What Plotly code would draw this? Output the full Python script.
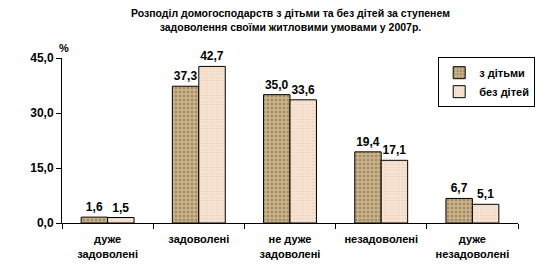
import plotly.graph_objects as go

categories = ["дуже<br>задоволені", "задоволені", "не дуже<br>задоволені", "незадоволені", "дуже<br>незадоволені"]
with_children = [1.6, 37.3, 35.0, 19.4, 6.7]
without_children = [1.5, 42.7, 33.6, 17.1, 5.1]
series_names = ["з дітьми", "без дітей"]

font_family = "Liberation Sans, Arial, sans-serif"

def fmt(v):
    return f"<b>{v:.1f}</b>".replace(".", ",")

fig = go.Figure()
fig.add_trace(go.Bar(
    x=categories, y=with_children, name=f"<b>{series_names[0]}</b>",
    marker=dict(color="#c9b18a", line=dict(color="black", width=1),
                pattern=dict(shape=".", fgcolor="#7a6438", bgcolor="#c9b18a", size=4, solidity=0.35)),
    text=[fmt(v) for v in with_children], textposition="outside",
    textfont=dict(family=font_family, size=12, color="black"), cliponaxis=False,
))
fig.add_trace(go.Bar(
    x=categories, y=without_children, name=f"<b>{series_names[1]}</b>",
    marker=dict(color="#f6e0cc", line=dict(color="black", width=1),
                pattern=dict(shape=".", fgcolor="#e6c2a4", bgcolor="#f8e6d6", size=3, solidity=0.4)),
    text=[fmt(v) for v in without_children], textposition="outside",
    textfont=dict(family=font_family, size=12, color="black"), cliponaxis=False,
))

fig.update_layout(
    width=547, height=267,
    margin=dict(l=62, r=20, t=58, b=44),
    paper_bgcolor="white", plot_bgcolor="white",
    separators=", ",
    barmode="group", bargap=0.42, bargroupgap=0.0,
    font=dict(family=font_family, size=11, color="black"),
    showlegend=True,
    legend=dict(x=0.825, y=1.005, xanchor="left", yanchor="top",
                bordercolor="black", borderwidth=1, bgcolor="white",
                font=dict(family=font_family, size=11, color="black"),
                itemwidth=30, tracegroupgap=0),
    yaxis=dict(range=[0, 45], dtick=15, tickformat=".1f", showgrid=False,
               showline=True, linecolor="black", linewidth=1,
               ticks="outside", ticklen=5, tickcolor="black", automargin=False,
               tickfont=dict(family=font_family, size=12, color="black"), zeroline=False),
    xaxis=dict(showline=True, linecolor="black", linewidth=1,
               ticks="outside", ticklen=5, tickcolor="black", tickson="boundaries",
               ticklabelstandoff=6, automargin=False,
               tickfont=dict(family=font_family, size=11, color="black")),
)
fig.update_yaxes(tickprefix="<b>", ticksuffix="</b>")
fig.update_xaxes(tickvals=categories, ticktext=[f"<b>{c}</b>" for c in categories])

fig.add_annotation(text="<b>Розподіл домогосподарств з дітьми та без дітей за ступенем<br>задоволення своїми житловими умовами у 2007р.</b>",
                   x=0.5, xref="paper", xanchor="center", y=(223 - 5) / 165, yref="paper", yanchor="top",
                   showarrow=False, font=dict(family=font_family, size=10.5, color="black"))
fig.add_annotation(text="<b>%</b>", xref="paper", yref="paper",
                   x=(57 - 62) / 465, y=(223 - 40) / 165, showarrow=False,
                   font=dict(family=font_family, size=11, color="black"))

fig.write_html("out.html")
